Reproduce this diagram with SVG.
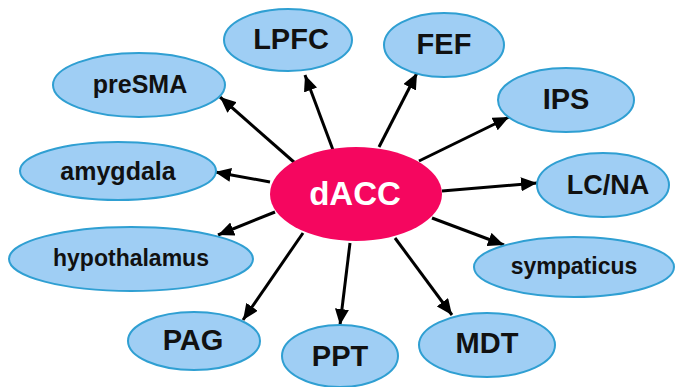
<svg xmlns="http://www.w3.org/2000/svg" width="677" height="387" viewBox="0 0 677 387">
<style>
.n ellipse{fill:#9fcef4;stroke:#2f9fd2;stroke-width:2}
.n text{font-family:"Liberation Sans",Arial,sans-serif;font-weight:bold;fill:#111;text-anchor:middle}
.c{font-size:29px}
.l{font-size:25px}
.s{font-size:23px}
#edges line{stroke:#000;stroke-width:3}
</style>
<defs>
<marker id="ah" markerUnits="userSpaceOnUse" markerWidth="18" markerHeight="14" refX="16" refY="7" orient="auto">
<path d="M0,0 L16,7 L0,14 Z" fill="#000"/>
</marker>
</defs>
<rect width="677" height="387" fill="#fff"/>
<g id="edges">
<line x1="295" y1="163" x2="220" y2="97" marker-end="url(#ah)"/>
<line x1="333" y1="150" x2="305" y2="75" marker-end="url(#ah)"/>
<line x1="379" y1="147" x2="417" y2="73" marker-end="url(#ah)"/>
<line x1="419" y1="161" x2="509" y2="117" marker-end="url(#ah)"/>
<line x1="442" y1="191" x2="537" y2="183" marker-end="url(#ah)"/>
<line x1="432" y1="218" x2="504" y2="245" marker-end="url(#ah)"/>
<line x1="395" y1="238" x2="452" y2="315" marker-end="url(#ah)"/>
<line x1="350" y1="243" x2="340" y2="325" marker-end="url(#ah)"/>
<line x1="303" y1="233" x2="243" y2="320" marker-end="url(#ah)"/>
<line x1="275" y1="212" x2="218" y2="235" marker-end="url(#ah)"/>
<line x1="270" y1="182" x2="215" y2="172" marker-end="url(#ah)"/>
</g>
<g id="dACC">
<ellipse cx="356" cy="194" rx="86" ry="47" fill="#f5065f"/>
<text x="355" y="205" font-family="Liberation Sans,Arial,sans-serif" font-weight="bold" font-size="33" fill="#fff" text-anchor="middle">dACC</text>
</g>
<g id="LPFC" class="n"><ellipse cx="288" cy="40" rx="64" ry="31"/><text class="c" x="291" y="49">LPFC</text></g>
<g id="preSMA" class="n"><ellipse cx="139" cy="85" rx="86" ry="32"/><text class="l" x="140" y="93">preSMA</text></g>
<g id="amygdala" class="n"><ellipse cx="118" cy="171" rx="98" ry="29"/><text class="l" x="118" y="180">amygdala</text></g>
<g id="hypothalamus" class="n"><ellipse cx="131" cy="259" rx="122" ry="32"/><text class="s" x="131" y="266">hypothalamus</text></g>
<g id="PAG" class="n"><ellipse cx="194" cy="341" rx="66" ry="29"/><text class="c" x="193" y="350">PAG</text></g>
<g id="PPT" class="n"><ellipse cx="340" cy="356" rx="58" ry="31"/><text class="c" x="340" y="366">PPT</text></g>
<g id="MDT" class="n"><ellipse cx="487" cy="345" rx="68" ry="32"/><text class="c" x="487" y="353">MDT</text></g>
<g id="sympaticus" class="n"><ellipse cx="574" cy="267" rx="100" ry="30"/><text class="s" x="574" y="274">sympaticus</text></g>
<g id="LCNA" class="n"><ellipse cx="603" cy="185" rx="66" ry="32"/><text class="c" x="608" y="194" style="font-size:27px">LC/NA</text></g>
<g id="IPS" class="n"><ellipse cx="566" cy="100" rx="68" ry="32"/><text class="c" x="566" y="109">IPS</text></g>
<g id="FEF" class="n"><ellipse cx="444" cy="45" rx="60" ry="32"/><text class="c" x="444" y="54">FEF</text></g>
</svg>
